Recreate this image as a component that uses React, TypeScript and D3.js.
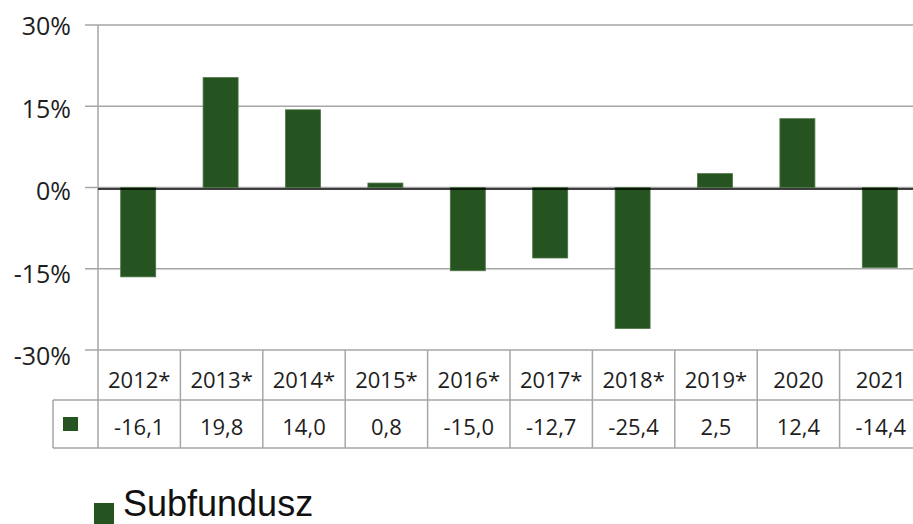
import React from "react";
import * as d3 from "d3";

const categories = ["2012*", "2013*", "2014*", "2015*", "2016*", "2017*", "2018*", "2019*", "2020", "2021"];
const values = [-16.1, 19.8, 14.0, 0.8, -15.0, -12.7, -25.4, 2.5, 12.4, -14.4];
const valueLabels = ["-16,1", "19,8", "14,0", "0,8", "-15,0", "-12,7", "-25,4", "2,5", "12,4", "-14,4"];
const yTicks = [30, 15, 0, -15, -30];
const seriesName = "Subfundusz";

const W = 913, H = 524;
const plotLeft = 98, plotRight = 922;
const headerBottom = 400, rowBottom = 448;
const keyLeft = 53;
const green = "#265420";
const grid = "#a6a6a6";
const font = "'Open Sans', 'DejaVu Sans', sans-serif";

export default function App() {
  const x = d3.scaleBand<string>().domain(categories).range([plotLeft, plotRight]);
  // gridline scale
  const yGrid = d3.scaleLinear().domain([-30, 30]).range([350, 25]);
  // bar scale (bars in the original are drawn a bit taller than the grid spacing)
  const yBar = d3.scaleLinear().domain([-30, 30]).range([354, 21]);
  // label baseline scale
  const yLabel = d3.scaleLinear().domain([-30, 30]).range([365, 35]);
  const barW = 35;
  return (
    <svg width={W} height={H} style={{ position: "fixed", left: 0, top: 0, background: "#fff" }}>
      {yTicks.map((t) => (
        <g key={t}>
          <line x1={85} x2={plotRight} y1={yGrid(t)} y2={yGrid(t)} stroke={grid} strokeWidth={1.5} />
          <text x={71} y={yLabel(t)} textAnchor="end" fontFamily={font} fontSize={25} fill="#1e1e1e">
            {t}%
          </text>
        </g>
      ))}
      <line x1={plotLeft} x2={plotLeft} y1={25} y2={rowBottom} stroke={grid} strokeWidth={1.5} />
      {categories.map((c, i) => {
        const v = values[i];
        const x0 = x(c)! + (x.bandwidth() - barW) / 2 - 1;
        return (
          <rect
            key={c}
            x={x0}
            width={barW}
            y={Math.min(yBar(v), yBar(0))}
            height={Math.abs(yBar(v) - yBar(0))}
            fill={green}
            stroke="#4d7345"
            strokeWidth={0.8}
          />
        );
      })}
      <line x1={plotLeft} x2={plotRight} y1={189} y2={189} stroke="#000" strokeWidth={1.6} />
      {/* table */}
      <line x1={keyLeft} x2={plotRight} y1={headerBottom} y2={headerBottom} stroke={grid} strokeWidth={1.5} />
      <line x1={keyLeft} x2={plotRight} y1={rowBottom} y2={rowBottom} stroke={grid} strokeWidth={1.5} />
      <line x1={keyLeft} x2={keyLeft} y1={headerBottom} y2={rowBottom} stroke={grid} strokeWidth={1.5} />
      {categories.map((c, i) => (
        <g key={c}>
          <line x1={x(c)! + x.bandwidth()} x2={x(c)! + x.bandwidth()} y1={350} y2={rowBottom} stroke={grid} strokeWidth={1.5} />
          <text x={x(c)! + x.bandwidth() / 2} y={388} textAnchor="middle" fontFamily={font} fontSize={22} fill="#1e1e1e">
            {c}
          </text>
          <text x={x(c)! + x.bandwidth() / 2} y={435} textAnchor="middle" fontFamily={font} fontSize={22} fill="#1e1e1e">
            {valueLabels[i]}
          </text>
        </g>
      ))}
      <rect x={63} y={417} width={15} height={14} fill={green} />
      {/* legend */}
      <rect x={94} y={503} width={20} height={21} fill={green} />
      <text x={123} y={516} fontFamily="'Liberation Sans', Arial, sans-serif" fontSize={36} fill="#111">
        {seriesName}
      </text>
    </svg>
  );
}
